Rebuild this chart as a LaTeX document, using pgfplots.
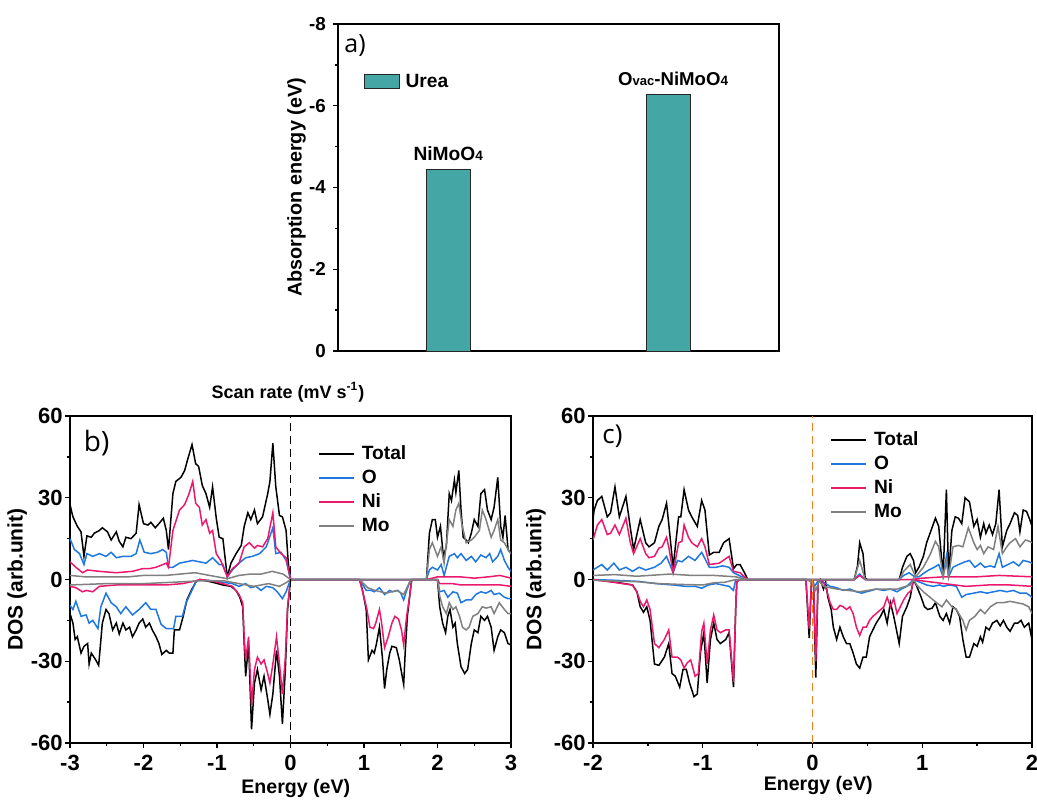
\documentclass[border=0pt]{standalone}
\usepackage{pgfplots}
\pgfplotsset{compat=1.18}
\usepackage{fontspec}
\setmainfont{Liberation Sans}
\newfontfamily\opensans{Open Sans}
\definecolor{cO}{RGB}{30,120,225}
\definecolor{cNi}{RGB}{235,25,110}
\definecolor{cMo}{RGB}{128,128,128}
\definecolor{cBar}{RGB}{69,166,166}
\definecolor{cOr}{RGB}{240,130,30}
\pgfplotsset{
  common/.style={scale only axis, height=163.5pt, tick pos=left, tick align=outside,
    major tick length=2.5pt, minor tick length=1.5pt,
    axis line style={line width=0.9pt},
    every tick/.append style={line width=0.7pt, black}},
  dosaxis/.style={common, ymin=-60, ymax=60, ytick={-60,-30,0,30,60}, yticklabels={-60,-30,0,30,60},
    minor ytick={-45,-15,15,45}, xlabel={Energy (eV)}, ylabel={DOS (arb.unit)},
    tick label style={font=\bfseries\fontsize{11}{12}\selectfont},
    yticklabel style={inner sep=0pt, xshift=-1pt},
    xlabel style={font=\bfseries\fontsize{9.8}{12}\selectfont},
    ylabel style={font=\bfseries\fontsize{10.5}{12}\selectfont},
    legend style={draw=none, fill=none, inner sep=0pt, anchor=north west,
      font=\bfseries\fontsize{9.6}{10}\selectfont, row sep=0.5pt,
      nodes={inner sep=1pt, text height=7.5pt, text depth=2pt}},
    legend cell align=left,
    legend image code/.code={\draw[#1, line width=0.8pt] (0pt,0pt) -- (17.5pt,0pt);},
    every axis plot/.append style={line width=0.75pt}},
}
\begin{document}
\begin{tikzpicture}
\path[use as bounding box] (0,0) rectangle (518.5pt,-399.5pt);

% ---------------- panel a ----------------
\begin{axis}[common, at={(169pt,-175.5pt)}, anchor=south west, width=220.5pt,
  xmin=0, xmax=4, ymin=-8, ymax=0, y dir=reverse, xtick=\empty,
  ytick={-8,-6,-4,-2,0}, yticklabels={-8,-6,-4,-2,0}, minor ytick={-7,-5,-3,-1},
  tick label style={font=\bfseries\fontsize{9.4}{11}\selectfont},
  ylabel={Absorption energy (eV)},
  ylabel style={at={(axis description cs:-0.094,0.5)}, anchor=center, font=\bfseries\fontsize{9.9}{12}\selectfont},
  ybar, bar width=22pt,
  legend style={draw=none, fill=none, inner sep=0pt, at={(0.057,0.823)}, anchor=west,
    font=\bfseries\fontsize{9.6}{11}\selectfont, nodes={inner sep=1pt}},
  legend image code/.code={\draw[#1] (0pt,-3.5pt) rectangle (17.5pt,3.5pt);}]
\addplot[fill=cBar, draw=black!85, line width=0.5pt] coordinates {(1,-4.43) (3,-6.28)};
\addlegendentry{\hspace{2pt}Urea}
\node[font=\bfseries\fontsize{9.6}{10}\selectfont] at (axis cs:1,-4.84) {NiMoO{\fontsize{6.8}{7}\selectfont 4}};
\node[font=\bfseries\fontsize{9.3}{10}\selectfont] at (axis cs:3.04,-6.65) {O{\fontsize{6.5}{7}\selectfont vac}-NiMoO{\fontsize{6.8}{7}\selectfont 4}};
\end{axis}

% ---------------- panel b ----------------
\begin{axis}[dosaxis, at={(35pt,-371.5pt)}, anchor=south west, width=220.5pt,
  xmin=-3, xmax=3, xtick={-3,-2,-1,0,1,2,3}, xticklabels={-3,-2,-1,0,1,2,3},
  minor xtick={-2.5,-1.5,-0.5,0.5,1.5,2.5},
  xlabel style={at={(axis description cs:0.512,-0.138)}, anchor=center},
  ylabel style={at={(axis description cs:-0.12,0.5)}, anchor=center},
  legend style={at={(0.562,0.92)}}]
\addplot[black] coordinates {(-3.00,27.5) (-2.96,23) (-2.90,19.5) (-2.85,17.5) (-2.81,8.5) (-2.77,16) (-2.71,15.5) (-2.67,17) (-2.60,18) (-2.56,19) (-2.49,17.5) (-2.44,14.5) (-2.37,17.5) (-2.33,14) (-2.28,12) (-2.24,15.5) (-2.17,15) (-2.10,17) (-2.06,27.5) (-2.00,20.5) (-1.94,20) (-1.90,21) (-1.84,19) (-1.79,20.5) (-1.73,22.5) (-1.69,18) (-1.66,11) (-1.60,31.5) (-1.56,36) (-1.49,37.5) (-1.44,40) (-1.40,44) (-1.34,49.5) (-1.29,42.5) (-1.25,41.5) (-1.20,34.5) (-1.15,31.5) (-1.10,26.5) (-1.06,34) (-1.01,22.5) (-0.97,15.5) (-0.92,15) (-0.86,1) (-0.81,6) (-0.74,9.5) (-0.67,12.5) (-0.63,19.5) (-0.58,24.5) (-0.54,22) (-0.49,25.5) (-0.45,20.5) (-0.38,23) (-0.31,31.5) (-0.28,36) (-0.24,50) (-0.20,34) (-0.15,23.5) (-0.11,23) (-0.06,18) (-0.03,6) (0,0) (1.85,0) (1.89,17) (1.93,22) (1.97,22) (2.00,15.5) (2.04,19.5) (2.08,8.5) (2.12,12) (2.16,31.5) (2.19,29) (2.23,36.5) (2.25,32) (2.29,40) (2.32,25.5) (2.35,15.5) (2.39,14.5) (2.42,13.5) (2.46,17) (2.50,22) (2.55,19.5) (2.59,31.5) (2.64,33) (2.68,25.5) (2.73,22) (2.77,26.5) (2.82,37.5) (2.86,19.5) (2.89,15.5) (2.92,23.5) (2.96,11) (3.00,9.5)};
\addlegendentry{\hspace{2.5pt}Total}
\addplot[black, forget plot] coordinates {(-3.00,-12.5) (-2.96,-16) (-2.93,-22) (-2.90,-21) (-2.85,-27) (-2.81,-24.5) (-2.76,-23.5) (-2.74,-31) (-2.71,-27) (-2.65,-29.5) (-2.61,-31.5) (-2.56,-16) (-2.51,-11) (-2.47,-12.5) (-2.42,-18.5) (-2.37,-16) (-2.33,-20) (-2.28,-16) (-2.24,-18.5) (-2.19,-17.5) (-2.15,-21) (-2.10,-18.5) (-2.06,-16) (-2.01,-14.5) (-1.97,-17.5) (-1.92,-16) (-1.88,-18.5) (-1.83,-21) (-1.79,-23.5) (-1.75,-27.5) (-1.69,-26) (-1.65,-27) (-1.60,-27) (-1.58,-18.5) (-1.51,-18.5) (-1.46,-13.5) (-1.41,-7.5) (-1.35,-4) (-1.29,-1) (-1.24,0) (-1.15,-0.5) (-1.06,-1) (-0.92,-2) (-0.81,-2.5) (-0.74,-4) (-0.69,-6.5) (-0.65,-10) (-0.63,-23.5) (-0.61,-35.5) (-0.57,-23.5) (-0.53,-55) (-0.49,-38) (-0.45,-33) (-0.40,-40.5) (-0.36,-35.5) (-0.31,-44) (-0.28,-49.5) (-0.24,-42) (-0.19,-26) (-0.15,-35.5) (-0.11,-53) (-0.07,-33) (-0.04,-11) (0,0) (0.94,0) (0.98,-4) (1.03,-11) (1.06,-29.5) (1.11,-26) (1.14,-27) (1.17,-23.5) (1.21,-17.5) (1.25,-28.5) (1.28,-40) (1.31,-33) (1.35,-27) (1.38,-24.5) (1.44,-25) (1.48,-29.5) (1.54,-38.5) (1.56,-27) (1.59,-13.5) (1.63,-4) (1.65,0) (2.00,0) (2.03,-10) (2.07,-16) (2.11,-19.5) (2.14,-13.5) (2.17,-11) (2.21,-17.5) (2.24,-16) (2.27,-23.5) (2.32,-32) (2.37,-34.5) (2.41,-33) (2.46,-23.5) (2.50,-18.5) (2.55,-19.5) (2.59,-13.5) (2.64,-15) (2.68,-13.5) (2.73,-17.5) (2.77,-26) (2.82,-21) (2.86,-18.5) (2.91,-19.5) (2.96,-23.5) (3.00,-24)};
\addplot[cO] coordinates {(-3.00,15) (-2.94,11) (-2.87,9.5) (-2.81,5.5) (-2.77,9.5) (-2.69,8.5) (-2.60,9.5) (-2.51,8.5) (-2.44,10) (-2.37,8) (-2.28,8.5) (-2.17,8.5) (-2.10,9.5) (-2.05,14.5) (-1.99,10) (-1.90,9.5) (-1.81,10) (-1.74,11) (-1.69,10) (-1.66,4.5) (-1.60,4.5) (-1.51,6) (-1.42,6.5) (-1.33,7) (-1.24,6.5) (-1.15,6) (-1.06,8) (-0.97,5.5) (-0.92,5.5) (-0.86,1) (-0.79,3.5) (-0.70,6) (-0.61,8) (-0.52,8.5) (-0.42,9.5) (-0.33,12) (-0.24,19) (-0.20,9.5) (-0.13,10) (-0.06,7) (0,0) (1.85,0) (1.89,3.5) (1.93,4.5) (2.00,3.5) (2.05,5.5) (2.09,1.5) (2.16,8.5) (2.23,9.5) (2.27,8) (2.32,9.5) (2.39,7) (2.46,8.5) (2.52,6.5) (2.59,9) (2.66,8) (2.71,9.5) (2.75,6.5) (2.82,8.5) (2.86,11) (2.91,7) (2.96,4.5) (3.00,3)};
\addlegendentry{\hspace{2.5pt}O}
\addplot[cO, forget plot] coordinates {(-3.00,-9.5) (-2.96,-11) (-2.92,-8) (-2.85,-13.5) (-2.78,-13) (-2.74,-16) (-2.69,-15) (-2.62,-18) (-2.58,-10) (-2.51,-5) (-2.44,-8.5) (-2.37,-10) (-2.31,-12.5) (-2.24,-10) (-2.15,-13) (-2.06,-11) (-1.97,-8.5) (-1.90,-11) (-1.83,-11) (-1.76,-16.5) (-1.69,-18) (-1.59,-18) (-1.56,-13.5) (-1.47,-13.5) (-1.42,-8.5) (-1.35,-4.5) (-1.29,-1) (-1.24,0) (-1.06,-0.5) (-0.79,-1.5) (-0.70,-2.5) (-0.61,-1.5) (-0.54,-3) (-0.47,-2.5) (-0.40,-4) (-0.33,-2.5) (-0.24,-3) (-0.18,-4.5) (-0.11,-7) (-0.06,-4.5) (0,0) (0.94,0) (1.03,-4) (1.10,-4) (1.14,-4.5) (1.21,-3) (1.28,-5.5) (1.35,-4) (1.39,-4.5) (1.46,-4) (1.50,-5) (1.54,-7.5) (1.58,-4) (1.63,-0.5) (1.65,0) (2.00,0) (2.03,-4.5) (2.09,-4) (2.14,-6.5) (2.21,-4.5) (2.27,-5) (2.32,-8.5) (2.39,-7.5) (2.46,-7.5) (2.52,-5.5) (2.59,-4.5) (2.66,-5) (2.73,-4) (2.77,-5.5) (2.84,-5) (2.91,-6.5) (2.96,-7) (3.00,-7)};
\addplot[cNi] coordinates {(-3.00,6.5) (-2.92,4.5) (-2.83,2.5) (-2.76,3.5) (-2.60,3) (-2.37,2.5) (-2.15,3) (-2.01,4) (-1.92,4) (-1.83,4.5) (-1.69,6) (-1.66,4.5) (-1.60,18) (-1.51,25.5) (-1.44,27.5) (-1.38,31.5) (-1.33,36) (-1.29,28) (-1.24,26.5) (-1.20,20) (-1.15,22) (-1.10,17) (-1.06,18) (-1.01,9.5) (-0.95,7) (-0.86,1) (-0.79,4) (-0.70,6) (-0.63,12) (-0.56,13.5) (-0.49,11.5) (-0.45,12.5) (-0.38,12) (-0.31,15) (-0.24,24.5) (-0.20,12) (-0.13,9.5) (-0.06,8) (0,0) (1.85,0) (1.93,0.5) (2.00,1) (2.30,1) (2.50,0.5) (2.70,1) (2.85,1.5) (3.00,0.5)};
\addlegendentry{\hspace{2.5pt}Ni}
\addplot[cNi, forget plot] coordinates {(-3.00,-2.5) (-2.92,-3) (-2.83,-4.5) (-2.78,-4) (-2.69,-4.5) (-2.60,-2.5) (-2.37,-2) (-1.92,-2) (-1.69,-2) (-1.47,-1.5) (-1.29,-0.5) (-1.24,0) (-1.06,-0.5) (-0.79,-2.5) (-0.70,-5.5) (-0.65,-8.5) (-0.63,-21) (-0.61,-29.5) (-0.57,-21) (-0.53,-46) (-0.49,-33) (-0.45,-28.5) (-0.40,-31) (-0.36,-29.5) (-0.31,-34.5) (-0.28,-38) (-0.24,-31) (-0.19,-21) (-0.15,-31) (-0.11,-42) (-0.07,-28.5) (-0.04,-10) (0,0) (0.94,0) (1.00,-6.5) (1.04,-11) (1.08,-17.5) (1.13,-18) (1.16,-16) (1.21,-11) (1.24,-16) (1.28,-25) (1.33,-21) (1.38,-16) (1.42,-13.5) (1.47,-14.5) (1.51,-18.5) (1.54,-24) (1.58,-13.5) (1.62,-6.5) (1.65,0) (2.00,0) (2.03,-1.5) (2.20,-1.5) (2.32,-2) (2.50,-2) (2.70,-2) (2.86,-2) (3.00,-2.5)};
\addplot[cMo] coordinates {(-3.00,1.5) (-2.80,1) (-2.50,1) (-2.20,1) (-2.00,1.5) (-1.70,1.5) (-1.50,2) (-1.30,2.5) (-1.10,1.5) (-0.90,0.5) (-0.86,0.3) (-0.70,1.5) (-0.55,2) (-0.40,2) (-0.25,3) (-0.10,2) (0,0) (1.85,0) (1.89,11) (1.93,13.5) (2.00,8.5) (2.05,12) (2.09,6) (2.16,22) (2.21,19.5) (2.25,25.5) (2.29,28) (2.33,20.5) (2.39,13.5) (2.46,14.5) (2.50,15.5) (2.57,18) (2.61,25.5) (2.66,22) (2.73,15.5) (2.77,18) (2.82,22) (2.86,14.5) (2.91,13.5) (2.96,11) (3.00,9.5)};
\addlegendentry{\hspace{2.5pt}Mo}
\addplot[cMo, forget plot] coordinates {(-3.00,-2) (-2.50,-1.5) (-2.00,-1.5) (-1.60,-1) (-1.24,-0.5) (-0.90,-0.5) (-0.70,-1.5) (-0.50,-2.5) (-0.30,-1.5) (-0.15,-2.5) (-0.05,-1) (0,0) (0.94,0) (1.05,-3) (1.15,-4) (1.30,-5) (1.45,-4) (1.54,-5.5) (1.62,-1) (1.65,0) (2.00,0) (2.03,-6) (2.07,-10) (2.12,-12.5) (2.16,-8.5) (2.21,-11) (2.25,-10) (2.30,-13.5) (2.34,-17.5) (2.39,-18.5) (2.43,-17.5) (2.48,-13.5) (2.55,-12.5) (2.61,-10) (2.66,-10.5) (2.73,-10) (2.77,-12.5) (2.84,-8.5) (2.91,-11) (2.96,-12.5) (3.00,-12.5)};
\draw[black, line width=0.9pt, dash pattern=on 4pt off 2.5pt] (axis cs:0,-60) -- (axis cs:0,60);
\end{axis}

% ---------------- panel c ----------------
\begin{axis}[dosaxis, at={(296.5pt,-371.5pt)}, anchor=south west, width=219.5pt,
  xmin=-2, xmax=2, xtick={-2,-1,0,1,2}, xticklabels={-2,-1,0,1,2},
  minor xtick={-1.5,-0.5,0.5,1.5},
  xlabel style={at={(axis description cs:0.513,-0.131)}, anchor=center},
  ylabel style={at={(axis description cs:-0.13,0.5)}, anchor=center},
  legend style={at={(0.540,0.963)}}]
\addplot[black] coordinates {(-2.00,22) (-1.99,25.5) (-1.96,29) (-1.92,30.5) (-1.87,23) (-1.84,24.5) (-1.80,34) (-1.76,23) (-1.70,30.5) (-1.66,19) (-1.63,11) (-1.57,22) (-1.52,13.5) (-1.49,12) (-1.44,13.5) (-1.40,19.5) (-1.37,22) (-1.33,28) (-1.31,20.5) (-1.27,4.5) (-1.22,23) (-1.20,23) (-1.17,33) (-1.13,25.5) (-1.10,23) (-1.05,19.5) (-1.01,29) (-0.98,25.5) (-0.94,9) (-0.90,10) (-0.85,10) (-0.81,13.5) (-0.76,15) (-0.72,4) (-0.69,5.5) (-0.66,5.5) (-0.62,2.5) (-0.59,0) (0.38,0) (0.41,5) (0.43,13.5) (0.46,9.5) (0.48,0.5) (0.50,0) (0.79,0) (0.82,4.5) (0.86,8.5) (0.89,9.5) (0.92,7) (0.94,2.5) (0.97,4.5) (1.01,8.5) (1.04,13.5) (1.08,18) (1.12,22.5) (1.15,19.5) (1.19,1.5) (1.22,33) (1.24,1.5) (1.27,18) (1.30,23) (1.33,22.5) (1.36,20.5) (1.39,30) (1.43,28.5) (1.47,19.5) (1.50,22) (1.53,15.5) (1.56,20.5) (1.58,17) (1.61,20) (1.64,16.5) (1.67,20.5) (1.70,33) (1.73,12) (1.77,18) (1.80,20.5) (1.84,24.5) (1.87,23.5) (1.89,17.5) (1.92,25.5) (1.95,25) (1.98,22) (2.00,19.5)};
\addlegendentry{\hspace{2.5pt}Total}
\addplot[black, forget plot] coordinates {(-2.00,0) (-1.89,-0.5) (-1.79,-1) (-1.64,-2) (-1.60,-4.5) (-1.57,-10) (-1.54,-12) (-1.51,-10) (-1.48,-15) (-1.44,-31) (-1.40,-31.5) (-1.35,-28.5) (-1.31,-23.5) (-1.28,-34.5) (-1.25,-35.5) (-1.21,-39.5) (-1.18,-33) (-1.15,-33) (-1.12,-38) (-1.08,-43) (-1.05,-42) (-1.02,-26.5) (-0.99,-19.5) (-0.96,-38) (-0.93,-22) (-0.90,-16) (-0.87,-22) (-0.84,-23.5) (-0.79,-22) (-0.76,-19.5) (-0.72,-39.5) (-0.70,-11) (-0.69,-1) (-0.67,0) (-0.06,0) (-0.03,-21.5) (-0.01,-1) (0.01,-2.5) (0.03,-36) (0.05,-1) (0.07,0) (0.10,-3.5) (0.12,-1) (0.14,-6.5) (0.17,-11) (0.19,-17.5) (0.22,-22) (0.25,-17.5) (0.28,-21) (0.31,-23.5) (0.34,-23.5) (0.37,-27) (0.40,-31) (0.43,-32.5) (0.46,-28.5) (0.49,-28.5) (0.52,-21) (0.55,-18.5) (0.58,-16) (0.62,-13.5) (0.65,-11) (0.68,-16) (0.71,-8.5) (0.74,-13.5) (0.76,-17.5) (0.79,-23.5) (0.82,-13.5) (0.86,-10) (0.89,-6.5) (0.92,0) (0.95,-2.5) (0.99,-6.5) (1.02,-10) (1.05,-11) (1.09,-10.5) (1.12,-8.5) (1.16,-13.5) (1.19,-15) (1.22,-12.5) (1.25,-16) (1.28,-10) (1.31,-11) (1.34,-13.5) (1.37,-22) (1.40,-28.5) (1.43,-28.5) (1.47,-23.5) (1.50,-24.5) (1.53,-21) (1.55,-23) (1.58,-17.5) (1.61,-18.5) (1.64,-16) (1.68,-15) (1.71,-17) (1.74,-15) (1.77,-17.5) (1.80,-19) (1.84,-16) (1.87,-16) (1.90,-15) (1.93,-17.5) (1.97,-16) (2.00,-22)};
\addplot[cO] coordinates {(-2.00,3.5) (-1.92,5.5) (-1.87,3.5) (-1.81,6) (-1.76,3.5) (-1.70,4.5) (-1.64,3) (-1.58,4.5) (-1.52,3.5) (-1.44,4.5) (-1.38,6) (-1.33,8.5) (-1.27,2.5) (-1.23,7) (-1.19,6.5) (-1.13,8.5) (-1.07,7) (-1.01,10) (-0.94,4.5) (-0.88,4.5) (-0.82,5) (-0.76,4.5) (-0.72,2.5) (-0.67,1.5) (-0.61,0.5) (-0.59,0) (0.38,0) (0.43,2) (0.48,0) (0.79,0) (0.83,1.5) (0.88,2.5) (0.93,1) (0.97,1) (1.02,2.5) (1.06,3.5) (1.11,4.5) (1.15,5.5) (1.19,1) (1.22,8.5) (1.24,1) (1.28,4.5) (1.33,5.5) (1.39,6.5) (1.43,7) (1.48,4.5) (1.53,6) (1.57,4.5) (1.62,5) (1.66,4.5) (1.70,9.5) (1.73,4.5) (1.78,5.5) (1.83,6.5) (1.88,5) (1.92,7) (1.97,6.5) (2.00,6)};
\addlegendentry{\hspace{2.5pt}O}
\addplot[cO, forget plot] coordinates {(-2.00,0) (-1.79,-0.3) (-1.58,-0.7) (-1.43,-1.5) (-1.27,-2) (-1.16,-2.5) (-1.07,-2.5) (-1.01,-3.2) (-0.95,-2) (-0.88,-1.5) (-0.82,-2) (-0.76,-2.5) (-0.72,-4) (-0.70,0) (-0.06,0) (0.00,0) (0.02,-2.5) (0.05,-0.5) (0.10,-1) (0.16,-2.5) (0.22,-3) (0.28,-4) (0.34,-3.5) (0.40,-4.5) (0.45,-5) (0.49,-4.5) (0.54,-4) (0.58,-3.5) (0.65,-4) (0.71,-3.5) (0.77,-4.5) (0.81,-3.5) (0.86,-2.5) (0.92,0) (0.98,-1) (1.04,-2) (1.10,-2.5) (1.16,-2) (1.19,-2.5) (1.25,-2) (1.31,-2.5) (1.36,-6.5) (1.40,-5.5) (1.47,-5) (1.53,-4.5) (1.59,-5) (1.65,-4.5) (1.71,-4) (1.77,-4.5) (1.83,-4) (1.89,-5) (1.95,-5) (2.00,-6.5)};
\addplot[cNi] coordinates {(-2.00,14.5) (-1.96,20) (-1.92,22) (-1.87,16.5) (-1.84,17) (-1.80,20) (-1.76,16.5) (-1.70,22.5) (-1.66,13.5) (-1.63,9.5) (-1.57,15) (-1.52,9.5) (-1.49,8) (-1.44,8.5) (-1.40,11.5) (-1.37,12) (-1.33,15.5) (-1.31,12) (-1.27,2.5) (-1.22,13.5) (-1.19,14) (-1.17,20) (-1.13,15.5) (-1.10,13.5) (-1.05,12) (-1.01,15) (-0.98,12) (-0.94,5.5) (-0.85,6) (-0.76,8.5) (-0.72,3) (-0.66,2.5) (-0.62,1) (-0.59,0) (0.38,0) (0.43,1.5) (0.48,0) (0.90,0) (1.00,0.5) (1.20,1) (1.50,1) (1.70,1.5) (2.00,1)};
\addlegendentry{\hspace{2.5pt}Ni}
\addplot[cNi, forget plot] coordinates {(-2.00,0) (-1.64,-2) (-1.60,-4.5) (-1.57,-8) (-1.54,-10) (-1.51,-7.5) (-1.48,-11) (-1.44,-23.5) (-1.40,-25) (-1.35,-22) (-1.31,-18.5) (-1.28,-28.5) (-1.23,-28.5) (-1.20,-29.5) (-1.17,-32.5) (-1.14,-30.5) (-1.11,-29.5) (-1.07,-35.5) (-1.04,-34.5) (-1.01,-19) (-0.99,-16) (-0.96,-31) (-0.93,-18.5) (-0.90,-13) (-0.87,-18.5) (-0.84,-19.5) (-0.79,-18.5) (-0.76,-18.5) (-0.72,-37.5) (-0.70,-11) (-0.69,-1) (-0.67,0) (-0.06,0) (-0.03,-18) (-0.01,-1) (0.01,-2) (0.03,-30) (0.05,-1) (0.07,0) (0.10,-1) (0.13,-4) (0.16,-8.5) (0.19,-11) (0.22,-11) (0.25,-9.5) (0.28,-10) (0.31,-11) (0.34,-10) (0.37,-12.5) (0.40,-17.5) (0.43,-20.5) (0.46,-17.5) (0.49,-17.5) (0.52,-15) (0.55,-13.5) (0.58,-12.5) (0.65,-10) (0.68,-6.5) (0.71,-10) (0.74,-7) (0.77,-12.5) (0.80,-10) (0.83,-7.5) (0.87,-5) (0.90,-4) (0.92,0) (1.00,-0.5) (1.20,-1.5) (1.40,-2.5) (1.60,-2) (1.80,-2) (2.00,-2.5)};
\addplot[cMo] coordinates {(-2.00,1.5) (-1.80,1.8) (-1.60,1.2) (-1.30,2) (-1.10,1.5) (-0.90,1.5) (-0.70,1) (-0.59,0) (0.38,0) (0.43,7) (0.48,0) (0.79,0) (0.83,3) (0.89,5.5) (0.94,1) (1.01,4.5) (1.07,9) (1.12,14) (1.15,12) (1.19,1) (1.22,6.5) (1.24,1) (1.28,12) (1.33,12.5) (1.37,12) (1.42,19) (1.47,13.5) (1.50,11) (1.53,12.5) (1.56,9.5) (1.60,12) (1.65,11) (1.69,19.5) (1.73,9.5) (1.77,12) (1.80,13.5) (1.85,15) (1.89,12) (1.94,14.5) (1.98,14) (2.00,13.5)};
\addlegendentry{\hspace{2.5pt}Mo}
\addplot[cMo, forget plot] coordinates {(-2.00,-0.3) (-1.60,-0.8) (-1.40,-1.5) (-1.20,-1.8) (-1.00,-2) (-0.90,-1.2) (-0.80,-1) (-0.70,0) (-0.06,0) (0.00,-1) (0.03,-4) (0.06,-0.5) (0.10,-2.5) (0.22,-3.5) (0.43,-4.5) (0.58,-3.5) (0.77,-3.5) (0.89,-2) (0.92,0) (0.95,-2) (1.01,-4.5) (1.07,-6.5) (1.13,-8.5) (1.18,-10) (1.22,-7.5) (1.27,-10) (1.31,-11) (1.37,-15) (1.40,-18.5) (1.43,-15) (1.48,-13.5) (1.53,-11) (1.57,-12.5) (1.62,-10) (1.68,-8.5) (1.74,-8.5) (1.80,-8) (1.86,-8.5) (1.92,-9) (1.97,-10) (2.00,-12.5)};
\draw[cOr, line width=0.9pt, dash pattern=on 4pt off 2.5pt] (axis cs:0,-60) -- (axis cs:0,60);
\end{axis}

% panel letters and stray caption
\node[font=\opensans\fontsize{12.5}{14}\selectfont] at (177.5pt,-23pt) {a)};
\node[font=\opensans\fontsize{14}{16}\selectfont] at (48.3pt,-221.5pt) {b)};
\node[font=\opensans\fontsize{13}{15}\selectfont] at (306.2pt,-218.3pt) {c)};
\node[font=\bfseries\fontsize{9}{10}\selectfont] at (144pt,-196pt) {Scan rate (mV s\textsuperscript{-1})};
\end{tikzpicture}
\end{document}
